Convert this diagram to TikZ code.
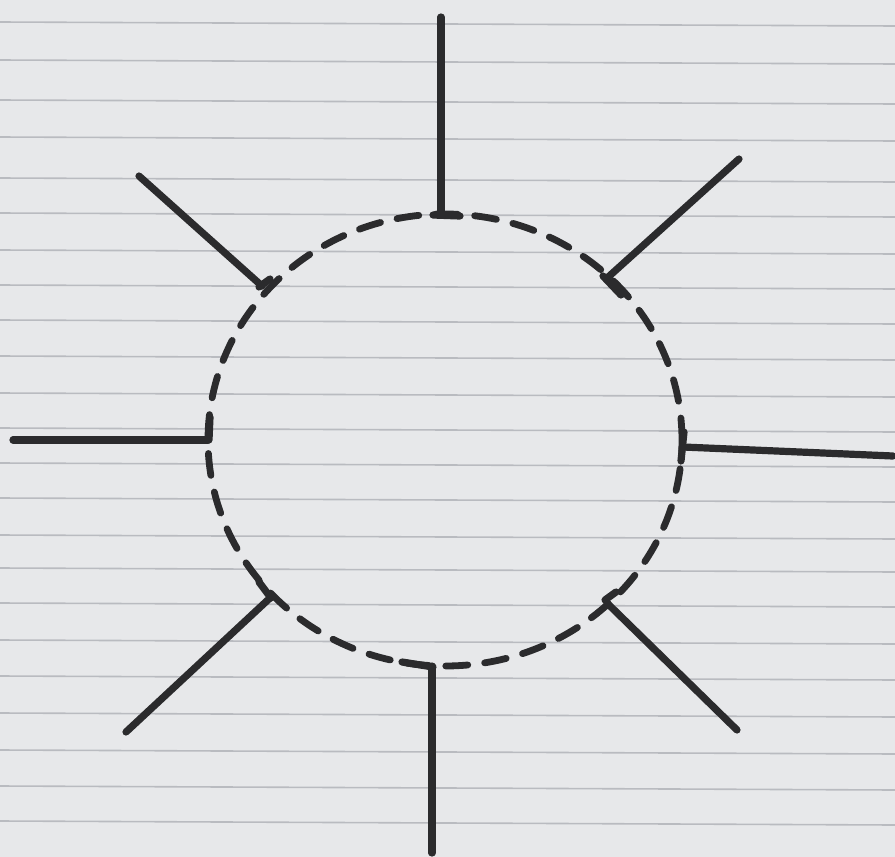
\documentclass[tikz,border=0pt]{standalone}
\usetikzlibrary{shapes.geometric}
\definecolor{paper}{HTML}{E7E8EA}
\definecolor{rule}{HTML}{B9BBC0}
\definecolor{pink}{HTML}{CDB6BC}
\definecolor{ink}{HTML}{2B2B2D}
\tikzset{
  spoke/.style={draw=ink,line width=3.6pt,line cap=round},
  tick/.style={draw=ink,line width=3.6pt,line cap=round},
  ring/.style={ellipse,draw=ink,line width=3.4pt,dash pattern=on 11pt off 8.5pt,line cap=round,inner sep=0pt},
  paperline/.style={draw=rule,line width=0.8pt}
}
\begin{document}
\begin{tikzpicture}[x=0.5pt,y=-0.5pt]
\fill[paper] (0,0) rectangle (895,857);
\useasboundingbox (0,0) rectangle (895,857);
% ruled lines of the notebook page
\foreach \y in {22,60,100,137,178,213,250,285,320,356,393,428,463,498,535,568,603,640,676,713,750,786,821} {
  \draw[paperline] (0,\y) -- (895,\y+4);
}
% dashed circle
\node[ring,minimum width=237pt,minimum height=226pt] (c) at (445,440) {};
% inner ends
\coordinate (iN) at (441,215);
\coordinate (iNE) at (606,279);
\coordinate (iE) at (683,447);
\coordinate (iSE) at (607,603);
\coordinate (iS) at (432,666);
\coordinate (iSW) at (270,598);
\coordinate (iW) at (208,440);
\coordinate (iNW) at (262,286);
% outer ends
\coordinate (oN) at (441,17);
\coordinate (oNE) at (739,159);
\coordinate (oE) at (893,456);
\coordinate (oSE) at (737,730);
\coordinate (oS) at (432,853);
\coordinate (oSW) at (126,732);
\coordinate (oW) at (13,440);
\coordinate (oNW) at (139,176);
% spokes
\foreach \d in {N,NE,E,SE,S,SW,W,NW} {
  \draw[spoke] (i\d) -- (o\d);
}
% small caps where spokes meet the ring
\coordinate (tN1) at (433,215); \coordinate (tN2) at (460,216);
\coordinate (tNE1) at (603,276); \coordinate (tNE2) at (621,295);
\coordinate (tE1) at (684,432); \coordinate (tE2) at (681,461);
\coordinate (tSE1) at (605,600); \coordinate (tSE2) at (616,592);
\coordinate (tS1) at (402,662); \coordinate (tS2) at (433,667);
\coordinate (tSW1) at (259,582); \coordinate (tSW2) at (271,598);
\coordinate (tW1) at (210,417); \coordinate (tW2) at (209,440);
\coordinate (tNW1) at (259,287); \coordinate (tNW2) at (270,279);
\foreach \d in {N,NE,E,SE,S,SW,W,NW} {
  \draw[tick] (t\d1) -- (t\d2);
}
\end{tikzpicture}
\end{document}
